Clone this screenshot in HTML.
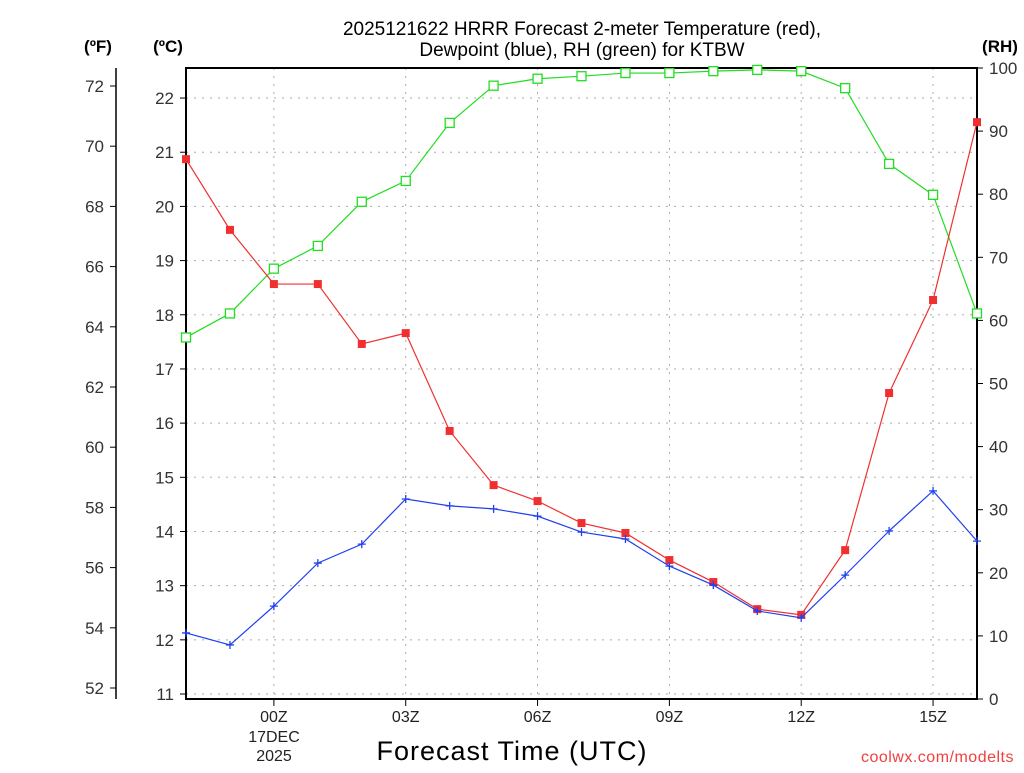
<!DOCTYPE html>
<html><head><meta charset="utf-8"><style>
body{margin:0;background:#fff;width:1024px;height:768px;overflow:hidden}
svg text{font-family:"Liberation Sans",sans-serif}
</style></head><body>
<svg id="c" width="1024" height="768">
</svg>
<script>
const hours=["22Z","23Z","00Z","01Z","02Z","03Z","04Z","05Z","06Z","07Z","08Z","09Z","10Z","11Z","12Z","13Z","14Z","15Z","16Z"];
const tempF=[69.57,67.22,65.42,65.42,63.43,63.79,60.54,58.74,58.21,57.48,57.15,56.25,55.52,54.62,54.43,56.58,61.80,64.89,70.80];
const dewF=[53.83,53.43,54.72,56.15,56.78,58.28,58.05,57.95,57.71,57.18,56.95,56.05,55.42,54.56,54.33,55.75,57.22,58.55,56.88];
const rh=[57.3,61.1,68.2,71.8,78.8,82.1,91.3,97.2,98.3,98.7,99.2,99.2,99.5,99.7,99.5,96.8,84.8,79.9,61.1];
const fTicks=[52,54,56,58,60,62,64,66,68,70,72];
const cTicks=[11,12,13,14,15,16,17,18,19,20,21,22];
const rhTicks=[0,10,20,30,40,50,60,70,80,90,100];
const xLabels=[[2,"00Z"],[5,"03Z"],[8,"06Z"],[11,"09Z"],[14,"12Z"],[17,"15Z"]];
const L=186,R=977,T=68,B=699;
const X=i=>L+i*(R-L)/(hours.length-1);
const YF=f=>86+(72-f)*30.1;
const YC=c=>YF(c*1.8+32);
const YR=r=>B-r*(B-T)/100;
const s=document.getElementById('c');const NS="http://www.w3.org/2000/svg";
function el(t,a,txt){const e=document.createElementNS(NS,t);for(const k in a)e.setAttribute(k,a[k]);if(txt!==undefined)e.textContent=txt;s.appendChild(e);return e;}
// grid
cTicks.forEach(c=>{const e=el('line',{x1:L,x2:R,y1:YC(c),y2:YC(c),stroke:'#aaa','stroke-dasharray':'2,6'});

});
xLabels.forEach(([i,l])=>{const e=el('line',{x1:X(i),x2:X(i),y1:T,y2:B,stroke:'#aaa','stroke-dasharray':'2,6'});


const t=el('line',{x1:X(i),x2:X(i),y1:B,y2:B+7,stroke:'#000'});


const tx=el('text',{x:X(i),y:B+23,'text-anchor':'middle','font-size':16,fill:'#222'},l);

});
// F axis
el('line',{x1:116,x2:116,y1:68,y2:699,stroke:'#000','stroke-width':1.5});
fTicks.forEach(f=>{el('line',{x1:110,x2:116,y1:YF(f),y2:YF(f),stroke:'#000'});
const t=el('text',{x:104,y:YF(f)+6,'text-anchor':'end','font-size':17,fill:'#333'},f);

});
cTicks.forEach(c=>{el('line',{x1:180,x2:186,y1:YC(c),y2:YC(c),stroke:'#000'});
const t=el('text',{x:174,y:YC(c)+6,'text-anchor':'end','font-size':17,fill:'#333'},c);

});
rhTicks.forEach(r=>{el('line',{x1:R,x2:R+6,y1:YR(r),y2:YR(r),stroke:'#000'});
const t=el('text',{x:R+12,y:YR(r)+6,'font-size':17,fill:'#333'},r);

});
const box=el('rect',{x:L,y:T,width:R-L,height:B-T,fill:'none',stroke:'#000','stroke-width':2});


function series(vals,yf,color,name,marker){
 const pts=vals.map((v,i)=>X(i)+','+yf(v)).join(' ');
 const pl=el('polyline',{points:pts,fill:'none',stroke:color,'stroke-width':1.2});
 
 
 vals.forEach((v,i)=>{const x=X(i),y=yf(v);let m;
  if(marker==='fill')m=el('rect',{x:x-4,y:y-4,width:8,height:8,fill:color});
  else if(marker==='open')m=el('rect',{x:x-4.5,y:y-4.5,width:9,height:9,fill:'#fff',stroke:color,'stroke-width':1.3});
  else m=el('path',{d:`M${x-4} ${y}H${x+4}M${x} ${y-4}V${y+4}`,stroke:color,'stroke-width':1.3});
  
  });
}
series(rh,YR,'#22dd22','rh','open');
series(tempF,YF,'#f03030','temperature','fill');
series(dewF,YF,'#2040f0','dewpoint','plus');
function txt(x,y,t,sz,name,extra){const e=el('text',Object.assign({x:x,y:y,'font-size':sz,fill:'#000'},extra||{}),t);

return e;}
txt(582,35,'2025121622 HRRR Forecast 2-meter Temperature (red),','19','chart-title-line1',{'text-anchor':'middle'});
txt(582,56,'Dewpoint (blue), RH (green) for KTBW','19','chart-title-line2',{'text-anchor':'middle'});
txt(98,52,'(ºF)','17','f-axis-title',{'text-anchor':'middle','font-weight':'bold'});
txt(168,52,'(ºC)','17','c-axis-title',{'text-anchor':'middle','font-weight':'bold'});
txt(1000,52,'(RH)','17','rh-axis-title',{'text-anchor':'middle','font-weight':'bold'});
txt(274,742,'17DEC','16','date-label',{'text-anchor':'middle',fill:'#222'});
txt(274,761,'2025','16','year-label',{'text-anchor':'middle',fill:'#222'});
txt(512,760,'Forecast Time (UTC)','27','x-axis-title',{'text-anchor':'middle','letter-spacing':'1'});
txt(1014,762,'coolwx.com/modelts','16','credit-text',{'text-anchor':'end',fill:'#f04040','letter-spacing':'0.5'});
</script>
</body></html>
